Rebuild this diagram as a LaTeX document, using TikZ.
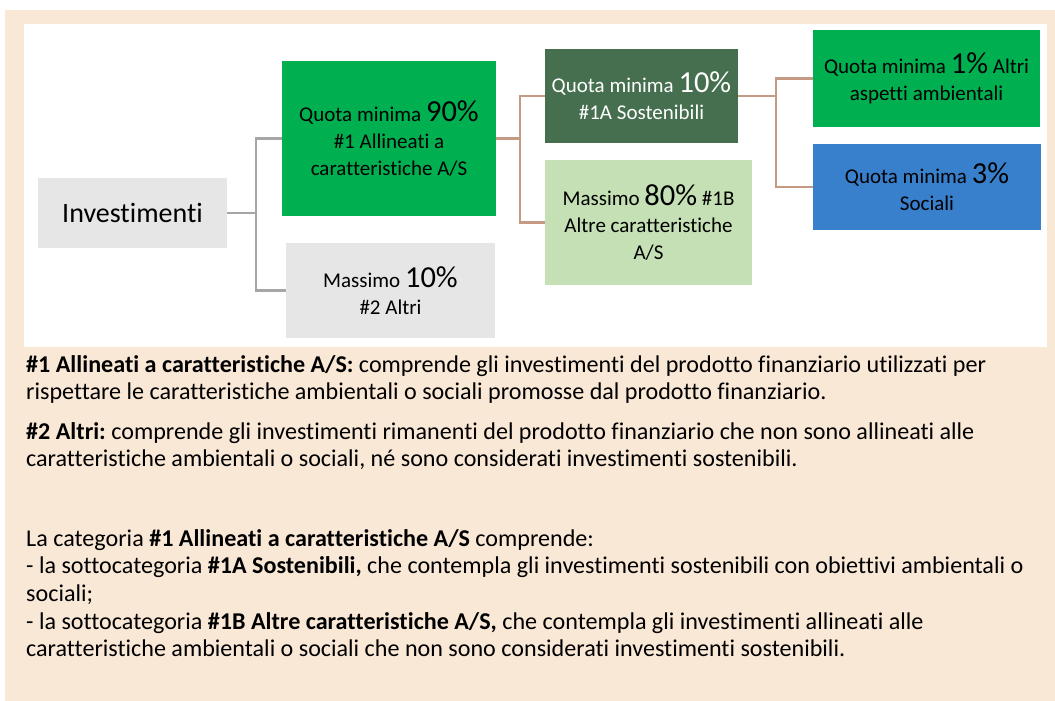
\documentclass[tikz,border=0pt]{standalone}
\usepackage{fontspec}
\setmainfont{Carlito}[Ligatures=NoCommon]
\frenchspacing

\definecolor{peach}{HTML}{FAE8D7}
\definecolor{boxgray}{HTML}{E6E6E6}
\definecolor{brightgreen}{HTML}{00B050}
\definecolor{darkgreen}{HTML}{466F4F}
\definecolor{palegreen}{HTML}{C5E0B4}
\definecolor{midblue}{HTML}{3880CC}
\definecolor{linegray}{HTML}{A6A6A6}
\definecolor{linebrown}{HTML}{C49A85}

\newcommand{\bigpct}[1]{{\fontsize{30.5}{30}\selectfont #1}}

\begin{document}
\begin{tikzpicture}[x=1pt,y=-1pt]
\useasboundingbox (0,0) rectangle (1055,701);
\fill[peach] (5,10) rectangle (1055,701);
\fill[white] (24,24) rectangle (1047,347);

\begin{scope}[every node/.style={rectangle,inner sep=2pt,align=center,
              font=\fontsize{21}{27}\selectfont}]
    \node[fill=boxgray,minimum width=189pt,minimum height=70pt,
          font=\fontsize{28}{30}\selectfont] (Inv) at (132.5,213) {Investimenti};
    \node[fill=brightgreen,minimum width=214pt,minimum height=155pt] (Q90) at (389,138.5)
        {Quota minima \bigpct{90\%}\\ \#1 Allineati a\\ caratteristiche A/S};
    \node[fill=boxgray,minimum width=209pt,minimum height=95pt] (Alt) at (390.5,290.5)
        {Massimo \bigpct{10\%}\\ \#2 Altri};
    \node[fill=darkgreen,text=white,minimum width=193pt,minimum height=94pt] (S1A) at (641.5,96)
        {Quota minima \bigpct{10\%}\\ \#1A Sostenibili};
    \node[fill=palegreen,minimum width=207pt,minimum height=125pt] (A1B) at (648.5,222.5)
        {Massimo \bigpct{80\%} \#1B\\ Altre caratteristiche\\ A/S};
    \node[fill=brightgreen,minimum width=227pt,minimum height=97pt] (Amb) at (926.5,78.5)
        {Quota minima \bigpct{1\%} Altri\\ aspetti ambientali};
    \node[fill=midblue,minimum width=228pt,minimum height=86pt] (Soc) at (927,187)
        {Quota minima \bigpct{3\%}\\ Sociali};
\end{scope}

\begin{scope}[line width=2.2pt]
    \coordinate (J1) at (256,213);
    \coordinate (J2) at (520,138.5);
    \coordinate (J3) at (776,96);
    \draw[linegray] (Inv.east) -- (J1) |- (Q90.west);
    \draw[linegray] (J1) |- (Alt.west);
    \draw[linebrown] (Q90.east) -- (J2) |- (S1A.west);
    \draw[linebrown] (J2) |- (A1B.west);
    \draw[linebrown] (S1A.east) -- (J3) |- (Amb.west);
    \draw[linebrown] (J3) |- (Soc.west);
\end{scope}

% legenda
\begin{scope}[every node/.style={anchor=base west,inner sep=0pt,
              font=\fontsize{24.1}{27}\selectfont}]
    \node (L1) at (26,372) {\textbf{\#1 Allineati a caratteristiche A/S:} comprende gli investimenti del prodotto finanziario utilizzati per};
    \node (L2) at (26,399) {rispettare le caratteristiche ambientali o sociali promosse dal prodotto finanziario.};
    \node (L3) at (26,439) {\textbf{\#2 Altri:} comprende gli investimenti rimanenti del prodotto finanziario che non sono allineati alle};
    \node (L4) at (26,466) {caratteristiche ambientali o sociali, né sono considerati investimenti sostenibili.};
    \node (L5) at (26,546) {La categoria \textbf{\#1 Allineati a caratteristiche A/S} comprende:};
    \node (L6) at (26,573.7) {- la sottocategoria \textbf{\#1A Sostenibili,} che contempla gli investimenti sostenibili con obiettivi ambientali o};
    \node (L7) at (26,601.4) {sociali;};
    \node (L8) at (26,629.1) {- la sottocategoria \textbf{\#1B Altre caratteristiche A/S,} che contempla gli investimenti allineati alle};
    \node (L9) at (26,656.8) {caratteristiche ambientali o sociali che non sono considerati investimenti sostenibili.};
\end{scope}
\end{tikzpicture}
\end{document}
